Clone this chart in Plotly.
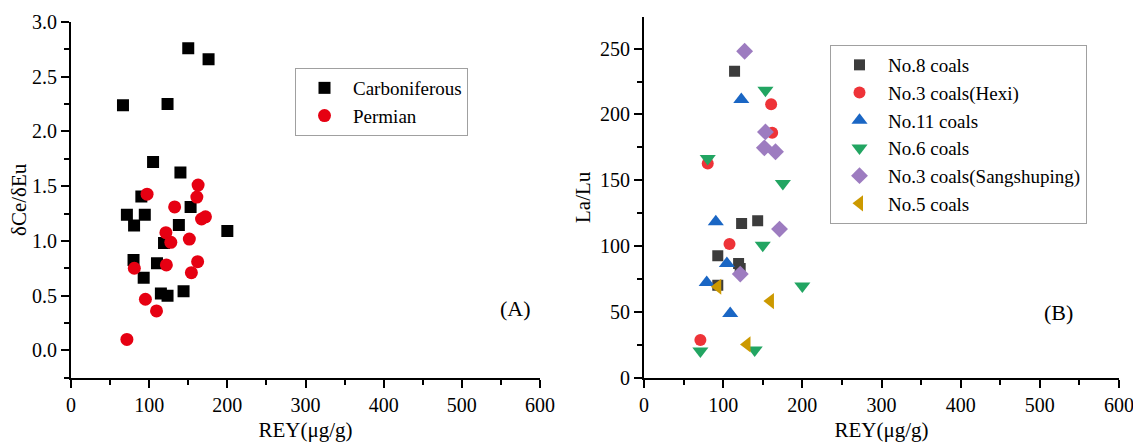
import plotly.graph_objects as go

# ---------------- Panel A data ----------------
carb_rey = [150, 176, 66.5, 123.5, 105, 140, 90, 71.5, 94.4, 80.7, 153, 138, 200,
            119, 80, 110, 93, 115, 123.5, 144]
carb_ratio = [2.76, 2.66, 2.24, 2.25, 1.72, 1.625, 1.405, 1.24, 1.24, 1.14, 1.31,
              1.146, 1.09, 0.98, 0.825, 0.795, 0.663, 0.52, 0.498, 0.54]
perm_rey = [97.3, 162.6, 161, 132.6, 167, 172, 121.4, 127.7, 151.4, 81, 122, 162,
            154, 95.2, 109.4, 71.5]
perm_ratio = [1.427, 1.51, 1.40, 1.31, 1.20, 1.22, 1.075, 0.987, 1.017, 0.75, 0.78,
              0.81, 0.71, 0.467, 0.36, 0.10]

# ---------------- Panel B data ----------------
no8_rey = [114.4, 123.3, 143.6, 93.2, 119.5, 121.5, 93.2]
no8_lalu = [232.8, 117.2, 119.2, 92.6, 86.8, 83.0, 70.3]
no3h_rey = [160.6, 161.9, 80.5, 108, 71.2]
no3h_lalu = [207.7, 186, 162.7, 101.5, 28.6]
no11_rey = [122.9, 90.7, 104.7, 79.2, 108.9]
no11_lalu = [211.3, 118.4, 86.8, 72.4, 48.8]
no6_rey = [153.4, 80.5, 175.4, 150, 200, 71.2, 139.8]
no6_lalu = [218.4, 166.5, 147.5, 100.7, 69.6, 20.2, 21]
no3s_rey = [127.1, 153.4, 152.1, 166.1, 171.2, 121.6]
no3s_lalu = [248, 186.7, 174.6, 171.6, 112.9, 78.7]
no5_rey = [93.2, 159.7, 130.1]
no5_lalu = [69.1, 58.2, 25.3]

FONT = "Liberation Serif"
W, H = 1133, 444

fig = go.Figure()

fig.add_trace(go.Scatter(x=carb_rey, y=carb_ratio, mode="markers", name="Carboniferous",
                         marker=dict(symbol="square", size=12, color="#000000"),
                         xaxis="x", yaxis="y", legend="legend"))
fig.add_trace(go.Scatter(x=perm_rey, y=perm_ratio, mode="markers", name="Permian",
                         marker=dict(symbol="circle", size=13, color="#e60012"),
                         xaxis="x", yaxis="y", legend="legend"))

series_b = [
    ("No.8 coals", no8_rey, no8_lalu, "square", 11, "#3c3c3c"),
    ("No.3 coals(Hexi)", no3h_rey, no3h_lalu, "circle", 12, "#ee3338"),
    ("No.11 coals", no11_rey, no11_lalu, "triangle-up", 14, "#1a66c4"),
    ("No.6 coals", no6_rey, no6_lalu, "triangle-down", 14, "#22a562"),
    ("No.3 coals(Sangshuping)", no3s_rey, no3s_lalu, "diamond", 13, "#9d7cc0"),
    ("No.5 coals", no5_rey, no5_lalu, "triangle-left", 14, "#cc9900"),
]
for name, xs, ys, sym, sz, col in series_b:
    fig.add_trace(go.Scatter(x=xs, y=ys, mode="markers", name=name,
                             marker=dict(symbol=sym, size=sz, color=col),
                             xaxis="x2", yaxis="y2", legend="legend2"))

def axis_common(dtick, minor_dtick):
    return dict(showline=True, linecolor="black", linewidth=2, mirror=False,
                ticks="outside", ticklen=8, tickwidth=2, tickcolor="black",
                showgrid=False, zeroline=False, dtick=dtick, automargin=False,
                ticklabeloverflow="allow",
                minor=dict(ticks="outside", ticklen=5, tickwidth=2, tickcolor="black",
                           dtick=minor_dtick, showgrid=False),
                tickfont=dict(family=FONT, size=20, color="black"))

bottom = 66.3 / H
TF = dict(family=FONT, size=21, color="black")
LEG = dict(bordercolor="#a0a0a0", borderwidth=1, bgcolor="white", itemwidth=47,
           xanchor="left", yanchor="top",
           font=dict(family=FONT, size=19, color="black"))
fig.update_layout(
    width=W, height=H,
    margin=dict(l=0, r=0, t=0, b=0),
    paper_bgcolor="white", plot_bgcolor="white",
    font=dict(family=FONT, size=20, color="black"),
    xaxis=dict(domain=[71 / W, 540 / W], range=[0, 600], anchor="y",
               title=dict(text="REY(μg/g)", font=TF, standoff=8),
               tick0=0, **axis_common(100, 50)),
    yaxis=dict(domain=[bottom, 1 - 22 / H], range=[-0.25, 3.0], anchor="x",
               title=dict(text="δCe/δEu", font=TF, standoff=0),
               tick0=0, tickformat=".1f", **axis_common(0.5, 0.25)),
    xaxis2=dict(domain=[644 / W, 1119 / W], range=[0, 600], anchor="y2",
                title=dict(text="REY(μg/g)", font=TF, standoff=8),
                tick0=0, **axis_common(100, 50)),
    yaxis2=dict(domain=[bottom, 1 - 17 / H], range=[0, 274], anchor="x2",
                title=dict(text="La/Lu", font=TF, standoff=4),
                tick0=0, **axis_common(50, 25)),
    legend=dict(x=295 / W, y=1 - 68 / H, **LEG),
    legend2=dict(x=830 / W, y=1 - 45 / H, **LEG),
    annotations=[
        dict(text="(A)", x=515 / W, y=1 - 323 / H, xref="paper", yref="paper",
             showarrow=False, font=dict(family=FONT, size=22, color="black")),
        dict(text="(B)", x=1075 / W, y=1 - 327 / H, xref="paper", yref="paper",
             showarrow=False, font=dict(family=FONT, size=22, color="black")),
    ],
)

fig.write_html("out.html")
